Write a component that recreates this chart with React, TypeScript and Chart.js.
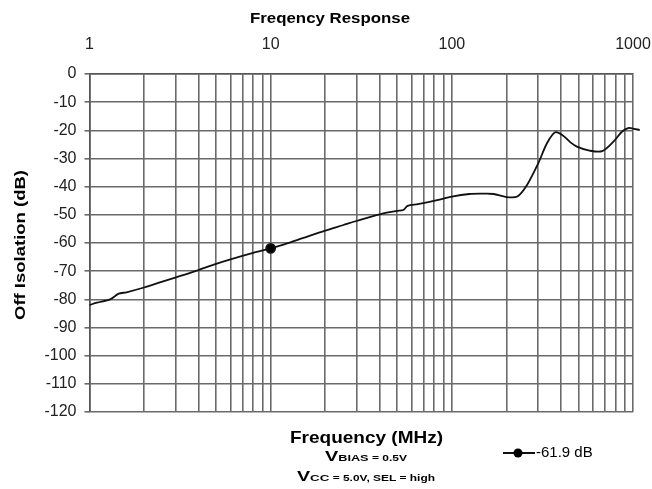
import React, { useEffect, useRef } from "react";
import { Chart, registerables } from "chart.js";

Chart.register(...registerables);

const freqMHz = [1, 1.1, 1.3, 1.45, 1.6, 2, 2.5, 3, 4, 5, 6, 8, 10, 12, 15, 20, 25, 30, 40, 50, 54, 57, 65, 83, 100, 125, 150, 170, 200, 230, 260, 300, 335, 372, 410, 450, 490, 575, 676, 780, 868, 940, 985, 1090];
const isolationDb = [-82, -81.2, -80, -78, -77.5, -75.8, -73.8, -72.2, -69.6, -67.4, -65.8, -63.5, -61.9, -60.4, -58.3, -55.6, -53.7, -52.1, -49.8, -48.6, -48.3, -46.8, -46.2, -44.8, -43.5, -42.6, -42.5, -42.6, -43.7, -43.5, -39.4, -31.7, -24.6, -20.7, -21.8, -24.2, -25.8, -27.2, -27.4, -24, -20.5, -19.2, -19.3, -19.9];
const markerFreq = 10;
const legendLabel = "-61.9 dB";
const xTickValues = [1, 2, 3, 4, 5, 6, 7, 8, 9, 10, 20, 30, 40, 50, 60, 70, 80, 90, 100, 200, 300, 400, 500, 600, 700, 800, 900, 1000];
const xLabelValues = [1, 10, 100, 1000];

const FONT = "Arial, 'Liberation Sans', sans-serif";

export default function App() {
  const ref = useRef<HTMLCanvasElement | null>(null);

  useEffect(() => {
    if (!ref.current) return;
    const extras = {
      id: "extras",
      afterDraw(chart: any) {
        const ctx = chart.ctx as CanvasRenderingContext2D;
        ctx.save();
        ctx.fillStyle = "#000";

        // draw a sequence of text parts, stretched horizontally to a target width
        const drawParts = (parts: [string, number][], cx: number, y: number, target: number) => {
          let total = 0;
          for (const [t, s] of parts) {
            ctx.font = `bold ${s}px ${FONT}`;
            total += ctx.measureText(t).width;
          }
          const k = target / total;
          ctx.save();
          ctx.translate(cx - target / 2, y);
          ctx.scale(k, 1);
          ctx.textAlign = "left";
          ctx.textBaseline = "alphabetic";
          let x = 0;
          for (const [t, s] of parts) {
            ctx.font = `bold ${s}px ${FONT}`;
            ctx.fillText(t, x, 0);
            x += ctx.measureText(t).width;
          }
          ctx.restore();
        };

        // title
        drawParts([["Freqency Response", 14]], 330, 23, 160);
        // x axis title
        drawParts([["Frequency (MHz)", 17]], 366.5, 443, 153);
        drawParts([["V", 14], ["BIAS", 9], [" = 0.5V", 8.5]], 366, 461, 82);
        drawParts([["V", 14], ["CC", 9.5], [" = 5.0V, SEL = high", 8.5]], 366, 481, 138);

        // y axis title (rotated)
        ctx.save();
        ctx.translate(25, 245);
        ctx.rotate(-Math.PI / 2);
        drawParts([["Off Isolation (dB)", 15]], 0, 0, 150);
        ctx.restore();

        // legend
        const ds = chart.data.datasets[0];
        ctx.strokeStyle = ds.borderColor;
        ctx.lineWidth = 2;
        ctx.beginPath();
        ctx.moveTo(503, 453);
        ctx.lineTo(535, 453);
        ctx.stroke();
        ctx.beginPath();
        ctx.arc(518, 453, 4.5, 0, Math.PI * 2);
        ctx.fillStyle = "#000";
        ctx.fill();
        ctx.font = `15px ${FONT}`;
        ctx.textAlign = "left";
        ctx.textBaseline = "middle";
        ctx.fillText(legendLabel, 536, 453);
        ctx.restore();
      },
    };

    const chart = new Chart(ref.current, {
      type: "line",
      data: {
        datasets: [
          {
            label: legendLabel,
            data: freqMHz.map((f, i) => ({ x: f, y: isolationDb[i] })),
            borderColor: "#111",
            borderWidth: 1.8,
            backgroundColor: "#000",
            pointRadius: freqMHz.map((f) => (f === markerFreq ? 4.5 : 0)),
            pointHoverRadius: 0,
            tension: 0.3,
            clip: false as any,
          },
        ],
      },
      options: {
        animation: false,
        responsive: true,
        maintainAspectRatio: false,
        layout: { padding: { top: 0, left: 0, right: 19, bottom: 77 } },
        plugins: { legend: { display: false }, title: { display: false }, tooltip: { enabled: false } },
        scales: {
          x: {
            type: "logarithmic",
            position: "top",
            min: 1,
            max: 1000,
            afterFit: (s: any) => {
              s.height = 74;
              s.paddingLeft = 0;
              s.paddingRight = 0;
            },
            afterBuildTicks: (s: any) => {
              s.ticks = xTickValues.map((v) => ({ value: v }));
            },
            grid: { color: "#6a6a6a", lineWidth: 1.6, drawTicks: false },
            border: { color: "#555", width: 1.6 },
            ticks: {
              autoSkip: false,
              maxRotation: 0,
              padding: 20,
              color: "#222",
              font: { family: FONT, size: 16 },
              callback: (v: any) => (xLabelValues.includes(Number(v)) ? String(v) : ""),
            },
          },
          y: {
            min: -120,
            max: 0,
            afterFit: (s: any) => {
              s.width = 89.5;
            },
            grid: { color: "#6a6a6a", lineWidth: 1.6, tickLength: 5 },
            border: { color: "#555", width: 1.6 },
            ticks: { stepSize: 10, padding: 8, color: "#222", font: { family: FONT, size: 16 } },
          },
        },
      },
      plugins: [extras],
    });
    return () => chart.destroy();
  }, []);

  return (
    <div style={{ position: "fixed", left: 0, top: 0, width: 652, height: 489, background: "#fff" }}>
      <canvas ref={ref} />
    </div>
  );
}
